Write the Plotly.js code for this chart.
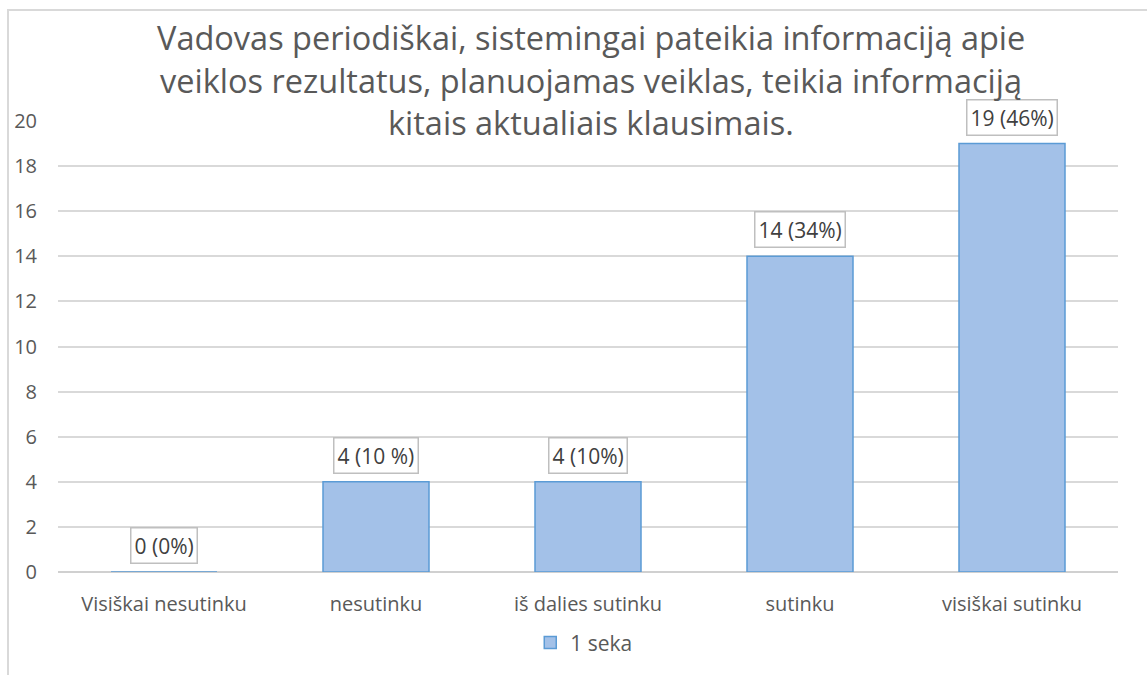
<!DOCTYPE html>
<html>
<head>
<meta charset="utf-8">
<script src="https://cdn.plot.ly/plotly-3.0.1.min.js"></script>
<style>html,body{margin:0;padding:0;background:#fff;}#chart{width:1147px;height:675px;}</style>
</head>
<body>
<div id="chart"></div>
<script>
const categories = ["Visiškai nesutinku", "nesutinku", "iš dalies sutinku", "sutinku", "visiškai sutinku"];
const values = [0, 4, 4, 14, 19];
const labels = ["0 (0%)", "4 (10 %)", "4 (10%)", "14 (34%)", "19 (46%)"];
const seriesName = "1 seka";
const yTicks = [0, 2, 4, 6, 8, 10, 12, 14, 16, 18, 20];
const titleLines = [
  "Vadovas periodiškai, sistemingai pateikia informaciją apie",
  "veiklos rezultatus, planuojamas veiklas, teikia informaciją",
  "kitais aktualiais klausimais."
];

const FONT = "Open Sans, sans-serif";
const trace = {
  type: "bar",
  x: categories,
  y: values,
  name: seriesName,
  width: 0.5,
  marker: {color: "#a3c1e8", line: {color: "#5b9bd5", width: 1.5}},
  showlegend: true,
  hoverinfo: "x+y"
};

const annotations = categories.map((c, i) => ({
  x: c, y: values[i], xref: "x", yref: "y",
  text: labels[i], showarrow: false,
  yanchor: "bottom", yshift: 8,
  bgcolor: "#ffffff", bordercolor: "#bfbfbf", borderwidth: 1.5, borderpad: 3,
  font: {family: FONT, size: 21, color: "#404040"}
}));

const titleY = [38, 80, 123];
titleLines.forEach((t, i) => {
  annotations.push({
    x: 0.503, xref: "paper", y: (572 - titleY[i]) / 451, yref: "paper",
    text: t, showarrow: false, xanchor: "center", yanchor: "middle",
    font: {family: FONT, size: 32.5, color: "#595959"}
  });
});

const layout = {
  width: 1147, height: 675,
  margin: {l: 58, r: 29, t: 121, b: 103},
  paper_bgcolor: "#ffffff", plot_bgcolor: "#ffffff",
  font: {family: FONT, color: "#595959"},
  xaxis: {
    type: "category", showgrid: false, showline: false, zeroline: false,
    ticks: "", ticklabelstandoff: 18,
    tickfont: {family: FONT, size: 20, color: "#595959"}
  },
  yaxis: {
    range: [0, 20], tickvals: yTicks, showgrid: true, gridcolor: "#d9d9d9", gridwidth: 1.5,
    zeroline: true, zerolinecolor: "#d0d0d0", zerolinewidth: 1.5,
    showline: false, ticks: "", ticklabelstandoff: 20,
    tickfont: {family: FONT, size: 20, color: "#595959"}
  },
  showlegend: true,
  legend: {orientation: "h", x: 0.496, xanchor: "center", y: -0.157, yanchor: "middle",
    font: {family: FONT, size: 21, color: "#595959"}, itemwidth: 30},
  annotations: annotations,
  shapes: [{
    type: "rect", xref: "paper", yref: "paper",
    x0: (8 - 58) / 1060, x1: 1.2, y0: -0.5, y1: (572 - 10) / 451,
    line: {color: "#d9d9d9", width: 2}, fillcolor: "rgba(0,0,0,0)", layer: "below"
  }],
  bargap: 0.5
};

Plotly.newPlot("chart", [trace], layout, {displayModeBar: false, responsive: false});
</script>
</body>
</html>
